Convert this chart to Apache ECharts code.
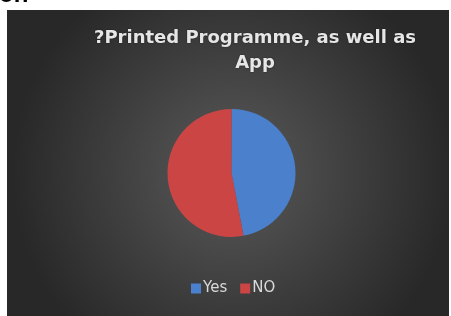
<!DOCTYPE html>
<html>
<head>
<meta charset="utf-8">
<script src="https://cdn.jsdelivr.net/npm/echarts@6/dist/echarts.min.js"></script>
<style>html,body{margin:0;padding:0;background:#fff;}#c{width:451px;height:316px;}</style>
</head>
<body>
<div id="c"></div>
<script>
var categories = ['Yes', 'NO'];
var values = [47, 53];
var colors = ['#4a80cc', '#cc4545'];
var titleText = '?Printed Programme, as well as\nApp';

var chart = echarts.init(document.getElementById('c'), null, {renderer: 'canvas'});
chart.setOption({
  animation: false,
  backgroundColor: '#ffffff',
  graphic: [
    {
      type: 'rect', z: -10, silent: true,
      shape: {x: 7, y: 10, width: 442, height: 306},
      style: {
        fill: new echarts.graphic.RadialGradient(0.51, 0.53, 0.72, [
          {offset: 0, color: '#5a5a5a'},
          {offset: 1, color: '#282828'}
        ])
      }
    },
    {
      type: 'text', z: 5, left: -1, top: -17,
      style: {text: 'on', font: 'bold 24px "Liberation Sans", Arial, sans-serif', fill: '#000'}
    }
  ],
  title: {
    text: titleText,
    left: 250, top: 21, textAlign: 'center',
    textStyle: {
      color: '#e6e6e6', fontSize: 18, fontWeight: 'bold',
      fontFamily: '"DejaVu Sans", sans-serif', lineHeight: 25,
      textShadowColor: 'rgba(0,0,0,0.5)', textShadowBlur: 2
    }
  },
  legend: {
    data: categories,
    bottom: 15, left: 186,
    itemWidth: 10, itemHeight: 10, itemGap: 13,
    icon: 'rect',
    textStyle: {color: '#d9d9d9', fontSize: 15, fontFamily: '"DejaVu Sans", sans-serif', padding: [0,0,0,-3]}
  },
  series: [{
    type: 'pie',
    center: [231.5, 173],
    radius: 64,
    startAngle: 90,
    clockwise: true,
    label: {show: false},
    labelLine: {show: false},
    itemStyle: {borderWidth: 0},
    data: categories.map(function (c, i) {
      return {name: c, value: values[i], itemStyle: {color: colors[i]}};
    })
  }]
});
</script>
</body>
</html>
